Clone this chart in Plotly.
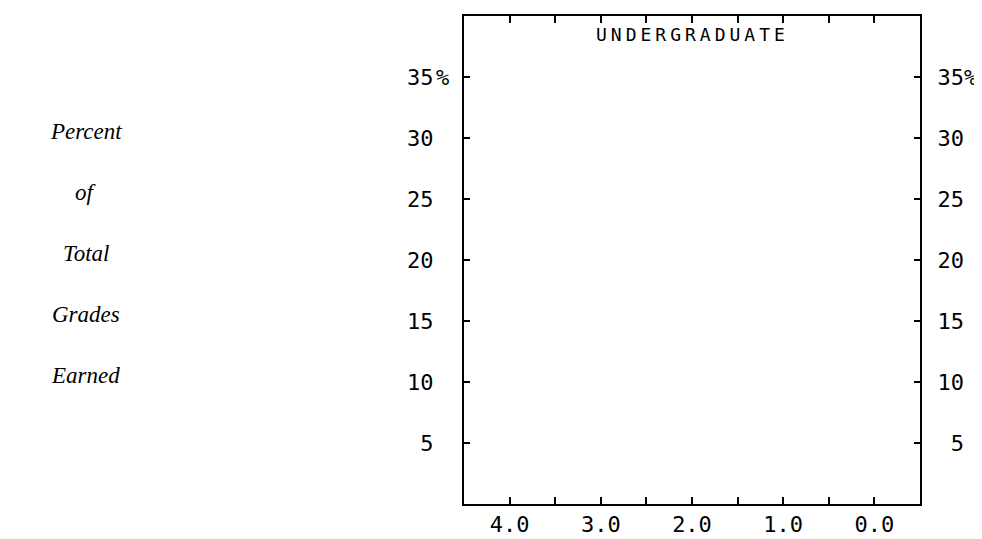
import plotly.graph_objects as go

# grade points along the bottom (reversed, 4.0 on the left)
GRADE_TICKS = [4.0, 3.5, 3.0, 2.5, 2.0, 1.5, 1.0, 0.5, 0.0]
GRADE_LABELS = ["4.0", "", "3.0", "", "2.0", "", "1.0", "", "0.0"]

# percent of total grades earned
PCT_TICKS = [5, 10, 15, 20, 25, 30, 35]
PCT_LABELS_LEFT = ["5", "10", "15", "20", "25", "30", "35"]
PCT_LABELS_RIGHT = ["\u20075", "10", "15", "20", "25", "30", "35%"]

PANEL_TITLE = "UNDERGRADUATE"
SIDE_WORDS = ["Percent", "of", "Total", "Grades", "Earned"]
SIDE_ROWS = [30, 25, 20, 15, 10]

NUM_FONT = dict(family="DejaVu Sans Mono", size=22, color="black")

fig = go.Figure()
fig.add_trace(go.Scatter(x=[], y=[], mode="markers", showlegend=False))
fig.add_trace(go.Scatter(x=[], y=[], mode="markers", yaxis="y2", showlegend=False))

fig.update_layout(
    width=982, height=539,
    margin=dict(l=456, r=70, t=6, b=43),
    paper_bgcolor="white", plot_bgcolor="white",
    showlegend=False,
    xaxis=dict(
        range=[4.5, -0.5], tickvals=GRADE_TICKS, ticktext=GRADE_LABELS,
        ticks="inside", ticklen=7, tickwidth=1.5, tickcolor="black",
        showline=True, linecolor="black", linewidth=2, mirror="ticks",
        showgrid=False, zeroline=False, tickfont=NUM_FONT,
    ),
    yaxis=dict(
        range=[0, 40], tickvals=PCT_TICKS, ticktext=PCT_LABELS_LEFT,
        ticks="inside", ticklen=6, tickwidth=1.5, tickcolor="black",
        showline=True, linecolor="black", linewidth=2,
        showgrid=False, zeroline=False, tickfont=NUM_FONT,
        ticklabelstandoff=24,
    ),
    yaxis2=dict(
        range=[0, 40], tickvals=PCT_TICKS, ticktext=PCT_LABELS_RIGHT,
        overlaying="y", side="right",
        ticks="inside", ticklen=6, tickwidth=1.5, tickcolor="black",
        showline=True, linecolor="black", linewidth=2,
        showgrid=False, zeroline=False, tickfont=NUM_FONT,
        ticklabelstandoff=11,
    ),
)

# title inside the frame
fig.add_annotation(
    text='<span style="letter-spacing:4px">' + PANEL_TITLE + "</span>",
    xref="x", yref="paper", x=2.0, y=0.988, yanchor="top", showarrow=False,
    font=dict(family="DejaVu Sans Mono", size=18, color="black"),
)

# the "%" hanging after the left 35
fig.add_annotation(
    text="%", xref="paper", yref="y", x=-0.066, y=35, xanchor="left",
    showarrow=False, font=NUM_FONT,
)

# stacked italic axis caption on the far left
for word, row in zip(SIDE_WORDS, SIDE_ROWS):
    fig.add_annotation(
        text="<i>" + word + "</i>", xref="paper", yref="y",
        x=-0.83, y=row + 0.5, xanchor="center", showarrow=False,
        font=dict(family="Liberation Serif", size=23, color="black"),
    )

fig.write_html("out.html")
